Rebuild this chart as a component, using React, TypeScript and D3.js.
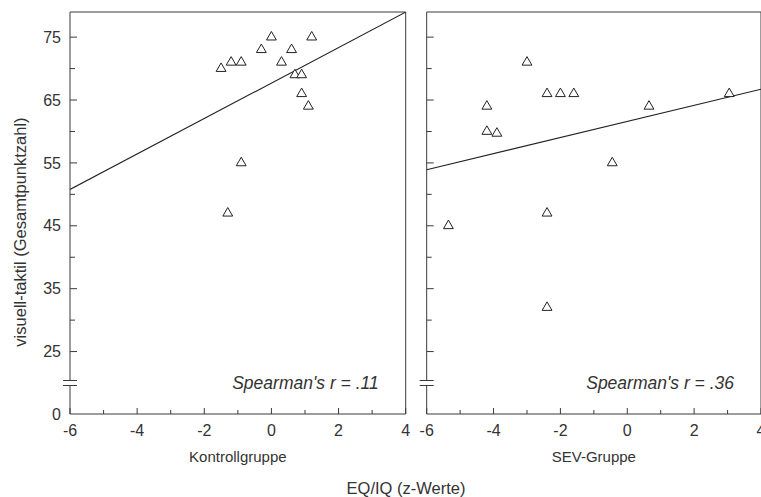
import React from 'react'
import * as d3 from 'd3'

// Kontrollgruppe (EQ/IQ z-Werte, visuell-taktil Gesamtpunktzahl)
const kontrollX = [-1.5, -1.2, -0.9, -0.3, 0, 0.3, 0.6, 0.7, 0.9, 0.9, 1.1, 1.2, -0.9, -1.3]
const kontrollY = [70, 71, 71, 73, 75, 71, 73, 69, 69, 66, 64, 75, 55, 47]

// SEV-Gruppe
const sevX = [-5.35, -4.2, -4.2, -3.9, -3.0, -2.4, -2.0, -1.6, -0.45, 0.65, 3.05, -2.4, -2.4]
const sevY = [45, 64, 60, 59.7, 71, 66, 66, 66, 55, 64, 66, 47, 32]

// regression lines: [intercept, slope]
const kontrollFit = [67.7, 2.82]
const sevFit = [61.6, 1.28]

const panelNames = ['Kontrollgruppe', 'SEV-Gruppe']
const spearman = ["Spearman's r = .11", "Spearman's r = .36"]

const xMajor = [-6, -4, -2, 0, 2, 4]
const xMinor = [-5, -3, -1, 1, 3]
const yMajor = [25, 35, 45, 55, 65, 75]
const yMinor = [30, 40, 50, 60, 70]

const lineColor = '#3a3a3a'
const textColor = '#333'
const font = 'Arial, "Liberation Sans", sans-serif'

// broken y axis: 0 at the bottom, gap, then 20..79
const y = d3.scaleLinear().domain([0, 20, 79]).range([414, 383, 12])

const Panel = ({x0, x1, xs, ys, fit, name, r, yLabels, clipId}) => {
	const x = d3.scaleLinear().domain([-6, 4]).range([x0, x1])
	const top = y(79), bottom = y(0)
	const tri = d3.symbol(d3.symbolTriangle, 42)()
	const line = d3.line<number>().x(v => x(v)).y(v => y(fit[0] + fit[1] * v))
	const breakY = y(20)

	return (
		<g>
			<defs>
				<clipPath id={clipId}>
					<rect x={x0} y={top} width={x1 - x0} height={bottom - top} />
				</clipPath>
			</defs>
			{/* frame */}
			<line x1={x0} x2={x1} y1={top} y2={top} stroke={lineColor} />
			<line x1={x1} x2={x1} y1={top} y2={bottom} stroke={lineColor} />
			<line x1={x0} x2={x1} y1={bottom} y2={bottom} stroke={lineColor} />
			<line x1={x0} x2={x0} y1={top} y2={breakY - 2.5} stroke={lineColor} />
			<line x1={x0} x2={x0} y1={breakY + 2.5} y2={bottom} stroke={lineColor} />
			{/* axis break */}
			<line x1={x0 - 7} x2={x0 + 7} y1={breakY - 2.5} y2={breakY - 2.5} stroke={lineColor} />
			<line x1={x0 - 7} x2={x0 + 7} y1={breakY + 2.5} y2={breakY + 2.5} stroke={lineColor} />

			{yMajor.map(v => <line key={'ym' + v} x1={x0} x2={x0 + 7} y1={y(v)} y2={y(v)} stroke={lineColor} />)}
			{yMinor.map(v => <line key={'yn' + v} x1={x0} x2={x0 + 5} y1={y(v)} y2={y(v)} stroke={lineColor} />)}
			{xMajor.map(v => <line key={'xm' + v} x1={x(v)} x2={x(v)} y1={bottom} y2={bottom - 6} stroke={lineColor} />)}
			{xMinor.map(v => <line key={'xn' + v} x1={x(v)} x2={x(v)} y1={bottom} y2={bottom - 4} stroke={lineColor} />)}

			{yLabels && [0, ...yMajor].map(v => (
				<text key={'yl' + v} x={x0 - 9} y={y(v)} dy="0.35em" textAnchor="end"
					fontSize={16} fill={textColor}>{v}</text>
			))}
			{xMajor.map(v => (
				<text key={'xl' + v} x={x(v)} y={436} textAnchor="middle" fontSize={16} fill={textColor}>{v}</text>
			))}
			<text x={(x0 + x1) / 2} y={462} textAnchor="middle" fontSize={15} fill={textColor}>{name}</text>

			<path d={line([-6, 4])} fill="none" stroke="#222" strokeWidth={1.1} clipPath={`url(#${clipId})`} />

			{xs.map((v, i) => (
				<path key={'p' + i} d={tri} transform={`translate(${x(v)},${y(ys[i])})`}
					fill="white" stroke="#222" strokeWidth={1} />
			))}

			<text x={x1 - 27} y={389} textAnchor="end" fontSize={17.5} fontStyle="italic" fill={textColor}>{r}</text>
		</g>
	)
}

export default function App() {
	return (
		<svg width={761} height={497} style={{position: 'absolute', left: 0, top: 0, background: 'white'}}
			fontFamily={font}>
			<Panel x0={70} x1={405.7} xs={kontrollX} ys={kontrollY} fit={kontrollFit}
				name={panelNames[0]} r={spearman[0]} yLabels={true} clipId="clipA" />
			<Panel x0={426.7} x1={761} xs={sevX} ys={sevY} fit={sevFit}
				name={panelNames[1]} r={spearman[1]} yLabels={false} clipId="clipB" />
			<text x={406} y={494} textAnchor="middle" fontSize={16.5} fill={textColor}>EQ/IQ (z-Werte)</text>
			<text transform="translate(26,232) rotate(-90)" textAnchor="middle" fontSize={16.5}
				fill={textColor}>visuell-taktil (Gesamtpunktzahl)</text>
		</svg>
	)
}
